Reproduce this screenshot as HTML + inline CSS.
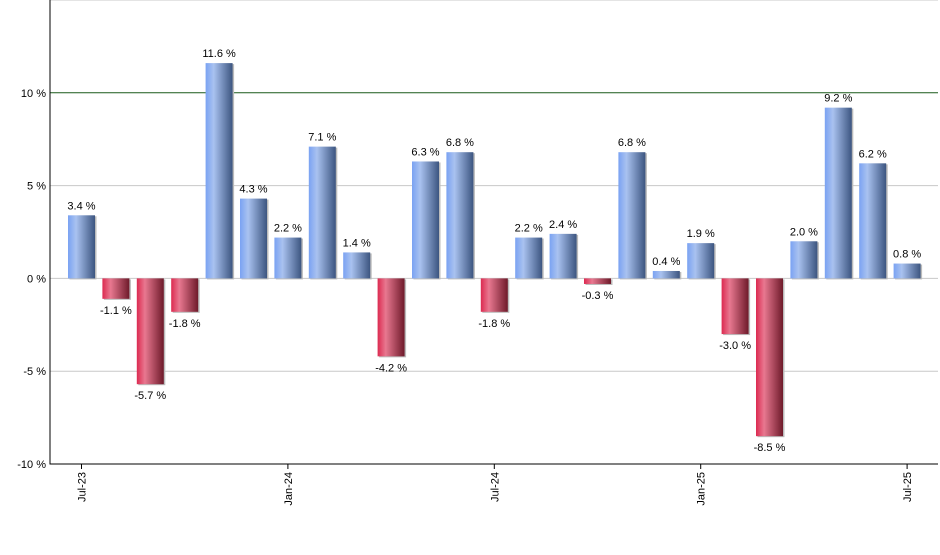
<!DOCTYPE html>
<html><head><meta charset="utf-8"><style>
body{margin:0;background:#fff;font-family:"Liberation Sans",sans-serif}
</style></head><body>
<svg id="chart" width="940" height="550" xmlns="http://www.w3.org/2000/svg" font-family="Liberation Sans, sans-serif">
<defs>
<linearGradient id="gPos" x1="0" x2="1" y1="0" y2="0"><stop offset="0" stop-color="#7aa2f2"/><stop offset="0.3" stop-color="#a9c2f0"/><stop offset="1" stop-color="#3c5580"/></linearGradient>
<linearGradient id="gNeg" x1="0" x2="1" y1="0" y2="0"><stop offset="0" stop-color="#dc2a50"/><stop offset="0.3" stop-color="#e87890"/><stop offset="1" stop-color="#6e1a2a"/></linearGradient>
</defs>
<g id="grid"></g><g id="bars"></g><g id="axes"></g>
</svg>
<script>
const categories=["Jul-23","Aug-23","Sep-23","Oct-23","Nov-23","Dec-23","Jan-24","Feb-24","Mar-24","Apr-24","May-24","Jun-24","Jul-24","Aug-24","Sep-24","Oct-24","Nov-24","Dec-24","Jan-25","Feb-25","Mar-25","Apr-25","May-25","Jun-25","Jul-25"];
const values=[3.4,-1.1,-5.7,-1.8,11.6,4.3,2.2,7.1,1.4,-4.2,6.3,6.8,-1.8,2.2,2.4,-0.3,6.8,0.4,1.9,-3.0,-8.5,2.0,9.2,6.2,0.8];
const yTicks=[-10,-5,0,5,10,15];
const xTickLabels=["Jul-23","Jan-24","Jul-24","Jan-25","Jul-25"];
const NS="http://www.w3.org/2000/svg";
const L=50,R=938,T=0,B=464,yMin=-10,yMax=15;
const y=v=>B-(v-yMin)/(yMax-yMin)*(B-T);
const step=34.4,x0=81.5;
const x=i=>x0+i*step;
function mk(tag,attrs,parent){const e=document.createElementNS(NS,tag);for(const k in attrs)e.setAttribute(k,attrs[k]);parent.appendChild(e);return e;}
const grid=document.getElementById('grid'),bars=document.getElementById('bars'),axes=document.getElementById('axes');
yTicks.forEach(t=>{
  const ln=mk('line',{x1:L,x2:R,y1:y(t),y2:y(t),stroke:t===10?'#1a5a1a':'#c8c8c8','stroke-width':1},grid);
  
  
  if(t<15){const tx=mk('text',{x:L-4,y:y(t)+4,'text-anchor':'end','font-size':11,fill:'#000'},axes);tx.textContent=t+' %';
  
  }
});
values.forEach((v,i)=>{
  const w=27,cx=x(i),top=v>=0?y(v):y(0),h=Math.abs(y(v)-y(0));
  mk('rect',{x:cx-w/2+1.5,y:top+1,width:w,height:h,fill:'#bbb'},bars);
  const r=mk('rect',{x:cx-w/2,y:top,width:w,height:h,fill:v>=0?'url(#gPos)':'url(#gNeg)'},bars);
  
  
  const t=mk('text',{x:cx,y:v>=0?y(v)-6:y(v)+15,'text-anchor':'middle','font-size':11,fill:'#000'},bars);
  t.textContent=v.toFixed(1)+' %';
  
  
});
const ax=mk('path',{d:`M${L},${T}V${B}H${R}`,stroke:'#000','stroke-width':1,fill:'none'},axes);


xTickLabels.forEach(lbl=>{
  const i=categories.indexOf(lbl),cx=x(i);
  mk('line',{x1:cx,x2:cx,y1:B,y2:B+5,stroke:'#000'},axes);
  const t=mk('text',{x:0,y:0,'text-anchor':'end','font-size':11,fill:'#000',transform:`translate(${cx+4},${B+8}) rotate(-90)`},axes);
  t.textContent=lbl;
  
  
});
</script>
</body></html>
